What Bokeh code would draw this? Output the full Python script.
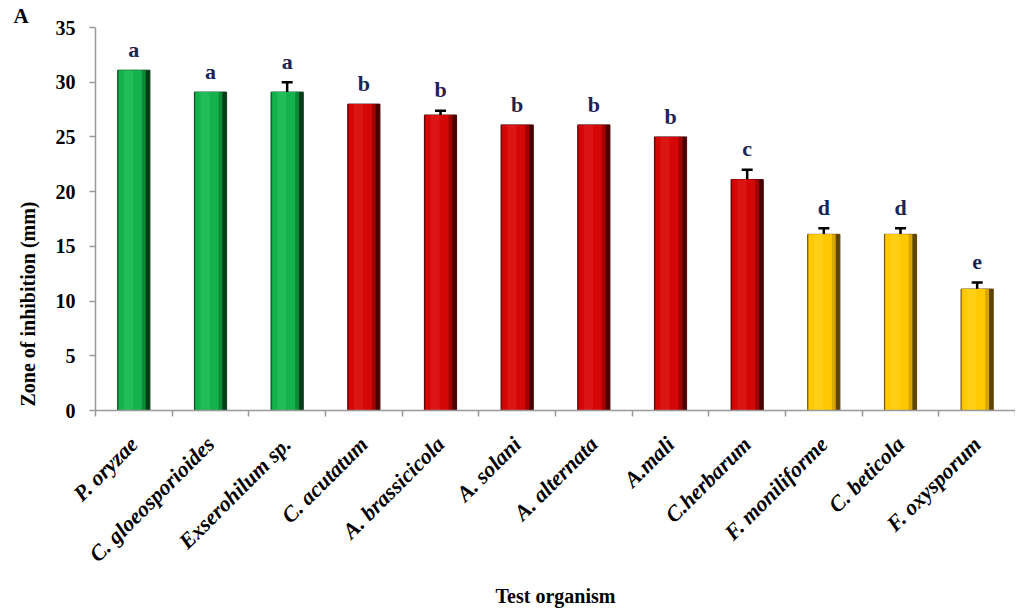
from bokeh.plotting import figure
from bokeh.models import ColumnDataSource, Range1d, LinearAxis, FixedTicker, Whisker, TeeHead, Title
from bokeh.transform import dodge
from bokeh.core.properties import value
from bokeh.embed import file_html
from bokeh.resources import INLINE

organisms = ["P. oryzae", "C. gloeosporioides", "Exserohilum sp.", "C. acutatum",
             "A. brassicicola", "A. solani", "A. alternata", "A.mali", "C.herbarum",
             "F. moniliforme", "C. beticola", "F. oxysporum"]
inhibition = [31.1, 29.1, 29.1, 28.0, 27.0, 26.1, 26.1, 25.0, 21.1, 16.1, 16.1, 11.1]
errors = [0.0, 0.0, 0.9, 0.0, 0.4, 0.0, 0.0, 0.0, 0.9, 0.55, 0.55, 0.6]
letters = ["a", "a", "a", "b", "b", "b", "b", "b", "c", "d", "d", "e"]
groups = ["g", "g", "g", "r", "r", "r", "r", "r", "r", "y", "y", "y"]
y_ticks = [0, 5, 10, 15, 20, 25, 30, 35]

main_col = {"g": "#14b24c", "r": "#d40606", "y": "#ffc800"}
mid_col = {"g": "#0c8a38", "r": "#a00202", "y": "#d9a600"}
dark_col = {"g": "#053d18", "r": "#4a0000", "y": "#5e4500"}
light_col = {"g": "#3fd070", "r": "#e83030", "y": "#ffdc40"}

FONT = "Liberation Serif"
n = len(organisms)
centers = [i + 0.5 for i in range(n)]
has_standoff = "standoff" in Title.properties()

src = ColumnDataSource(dict(
    x=centers, top=inhibition, err=errors, lab=letters,
    main=[main_col[g] for g in groups], mid=[mid_col[g] for g in groups],
    dark=[dark_col[g] for g in groups], light=[light_col[g] for g in groups],
    ly=[v + e + 1.9 for v, e in zip(inhibition, errors)],
))

ei = [i for i, e in enumerate(errors) if e > 0]
esrc = ColumnDataSource(dict(
    x=[centers[i] for i in ei],
    upper=[inhibition[i] + errors[i] for i in ei],
    lower=[inhibition[i] - errors[i] for i in ei],
))

p = figure(width=1015, height=610, x_range=Range1d(0, n),
           y_range=Range1d(0, 35), output_backend="svg", toolbar_location=None,
           x_axis_location=None, min_border_left=95, min_border_right=0,
           min_border_top=27, min_border_bottom=200)
p.outline_line_color = None
p.grid.visible = False
p.background_fill_color = "white"

# cylinder-like bars built in layers
p.vbar(x="x", top="top", width=0.42, source=src, fill_color="dark", line_color="dark", line_width=1)
p.vbar(x=dodge("x", -0.025), top="top", width=0.36, source=src, fill_color="mid", line_color=None)
p.vbar(x=dodge("x", -0.045), top="top", width=0.30, source=src, fill_color="main", line_color=None)
p.vbar(x=dodge("x", -0.07), top="top", width=0.12, source=src, fill_color="light",
       line_color=None, fill_alpha=0.35)

wh = Whisker(base="x", upper="upper", lower="lower", source=esrc,
             line_color="black", line_width=2.5,
             upper_head=TeeHead(size=11, line_width=2.5, line_color="black"),
             lower_head=TeeHead(size=11, line_width=2.5, line_color="black"))
p.add_layout(wh)

p.text(x="x", y="ly", text="lab", source=src, text_align="center", text_baseline="middle",
       text_font=value(FONT), text_font_style="bold", text_font_size="22px",
       text_color="#1c2454")

# y axis
ya = p.yaxis[0]
ya.ticker = FixedTicker(ticks=y_ticks)
ya.axis_line_color = "#999999"
ya.axis_line_width = 1.5
ya.major_tick_line_color = "#999999"
ya.major_tick_line_width = 1.5
ya.major_tick_out = 6
ya.major_tick_in = 0
ya.minor_tick_line_color = None
ya.major_label_text_font = FONT
ya.major_label_text_font_style = "bold"
ya.major_label_text_font_size = "20px"
ya.major_label_text_color = "black"
ya.major_label_standoff = 14

ytitle_kw = {"standoff": 28} if has_standoff else {}
ytitle = Title(text="Zone of inhibition (mm)", align="left", offset=4,
               text_font=FONT, text_font_style="bold", text_font_size="20px",
               text_color="black", **ytitle_kw)
p.add_layout(ytitle, "left")

# x axis: boundary ticks as minor ticks, names at centres
xa = LinearAxis(ticker=FixedTicker(ticks=centers, minor_ticks=list(range(n + 1))),
                major_label_overrides={c: name for c, name in zip(centers, organisms)},
                axis_line_color="#999999", axis_line_width=1.5,
                major_tick_line_color=None, major_tick_out=0, major_tick_in=0,
                minor_tick_line_color="#999999", minor_tick_line_width=1.5,
                minor_tick_out=6, minor_tick_in=0,
                major_label_orientation=0.785,
                major_label_text_font=FONT, major_label_text_font_style="bold italic",
                major_label_text_font_size="22px", major_label_text_color="black",
                major_label_standoff=24,
                axis_label="Test organism", axis_label_text_font=FONT,
                axis_label_text_font_style="bold", axis_label_text_font_size="20px",
                axis_label_text_color="black", axis_label_standoff=6)
p.add_layout(xa, "below")

atitle_kw = {"standoff": 0} if has_standoff else {}
atitle = Title(text="A", align="left", offset=-82,
               text_font=FONT, text_font_style="bold", text_font_size="21px",
               text_color="black", **atitle_kw)
p.add_layout(atitle, "above")

open("out.html", "w").write(file_html(p, INLINE))
